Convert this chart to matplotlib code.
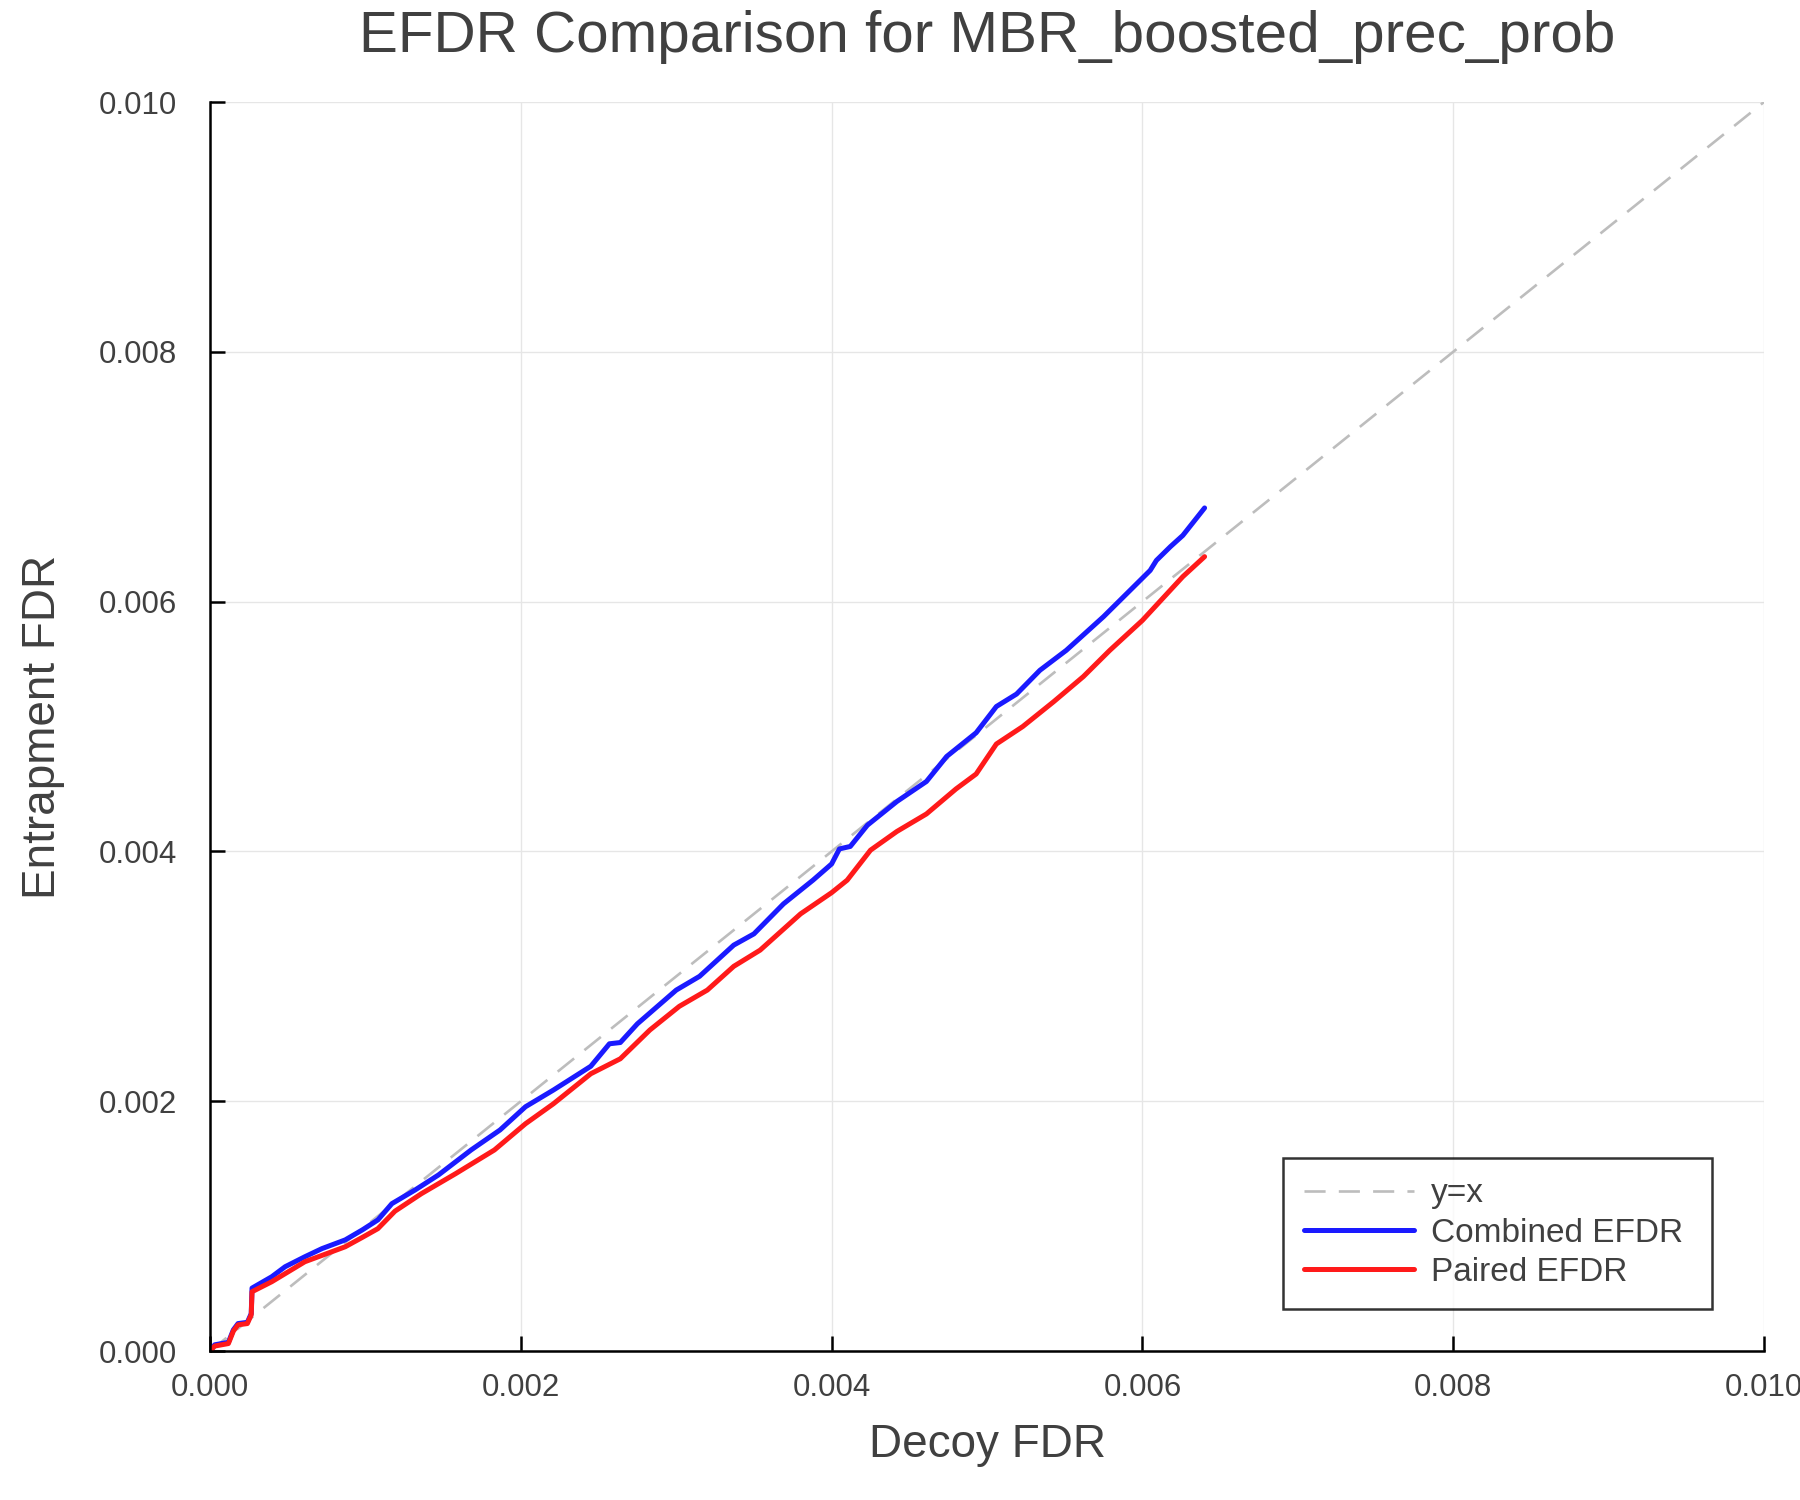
import matplotlib
matplotlib.use("Agg")
import matplotlib.pyplot as plt

title = "EFDR Comparison for MBR_boosted_prec_prob"
x_label = "Decoy FDR"
y_label = "Entrapment FDR"
ticks = [0.000, 0.002, 0.004, 0.006, 0.008, 0.010]
tick_labels = ["0.000", "0.002", "0.004", "0.006", "0.008", "0.010"]

diag_x = [0.0, 0.010]
diag_y = [0.0, 0.010]

combined_x = [0.0, 0.00003, 0.000118, 0.00015, 0.00018, 0.00024, 0.000265, 0.00027,
              0.000397, 0.000483, 0.00061, 0.00072, 0.00087, 0.00098, 0.00108, 0.00117,
              0.00132, 0.00147, 0.00168, 0.001866, 0.00203, 0.00221, 0.00245, 0.00257,
              0.00264, 0.00275, 0.0030, 0.00315, 0.00337, 0.0035, 0.00369, 0.00388,
              0.0040, 0.00405, 0.00412, 0.00423, 0.00442, 0.00461, 0.00474, 0.00483,
              0.00493, 0.00506, 0.00519, 0.00534, 0.00551, 0.00575, 0.00605, 0.00609,
              0.00618, 0.00626, 0.00633, 0.0064]
combined_y = [0.0, 0.00005, 0.00007, 0.00017, 0.00022, 0.00023, 0.0003, 0.000504,
              0.000595, 0.000675, 0.000755, 0.00082, 0.00089, 0.00097, 0.00105, 0.00118,
              0.00129, 0.00141, 0.00161, 0.00177, 0.001956, 0.00209, 0.00228, 0.00246,
              0.00247, 0.00262, 0.00289, 0.0030, 0.00325, 0.00334, 0.00358, 0.00377,
              0.0039, 0.00402, 0.00404, 0.00421, 0.0044, 0.00456, 0.00476, 0.00485,
              0.00495, 0.00516, 0.00526, 0.00545, 0.00561, 0.00588, 0.00625, 0.00633,
              0.00644, 0.00653, 0.00664, 0.00675]

paired_x = [0.0, 0.00003, 0.000118, 0.00015, 0.00018, 0.00024, 0.000265, 0.00027,
            0.000397, 0.00061, 0.00087, 0.00098, 0.00108, 0.00119, 0.00136, 0.00158,
            0.00183, 0.00203, 0.00221, 0.00245, 0.00264, 0.00283, 0.00302, 0.0032,
            0.00337, 0.00354, 0.0038, 0.0040, 0.0041, 0.00425, 0.00442, 0.00461,
            0.0048, 0.00493, 0.00506, 0.00523, 0.00543, 0.00562, 0.00579, 0.0060,
            0.00626, 0.00633, 0.0064]
paired_y = [0.0, 0.00004, 0.00006, 0.00016, 0.00021, 0.00022, 0.00029, 0.000475,
            0.000555, 0.000715, 0.000835, 0.00091, 0.00098, 0.00112, 0.00126, 0.00142,
            0.00161, 0.00182, 0.00198, 0.00222, 0.00234, 0.00257, 0.00276, 0.00289,
            0.00308, 0.00321, 0.0035, 0.00367, 0.00377, 0.00401, 0.00416, 0.0043,
            0.0045, 0.00462, 0.00486, 0.005, 0.0052, 0.0054, 0.00561, 0.00585,
            0.0062, 0.00628, 0.00636]

plt.rcParams['font.family'] = ['Liberation Sans', 'DejaVu Sans']
text_color = '#404040'

fig = plt.figure(figsize=(18, 15), dpi=100)
ax = fig.add_axes([0.1167, 0.0993, 0.8633, 0.8327])

ax.plot(diag_x, diag_y, color='#bdbdbd', linestyle=(0, (8, 5)), linewidth=1.9, label='y=x')
ax.plot(combined_x, combined_y, color='#1a1aff', linewidth=3.6, label='Combined EFDR',
        solid_joinstyle='round', solid_capstyle='round')
ax.plot(paired_x, paired_y, color='#ff1a1a', linewidth=3.6, label='Paired EFDR',
        solid_joinstyle='round', solid_capstyle='round')

ax.set_xlim(0, 0.010)
ax.set_ylim(0, 0.010)
ax.set_xticks(ticks)
ax.set_xticklabels(tick_labels)
ax.set_yticks(ticks)
ax.set_yticklabels(tick_labels)
ax.tick_params(direction='in', length=11, width=1.8, labelsize=22.5, labelcolor=text_color)
ax.tick_params(axis='y', pad=24)
ax.tick_params(axis='x', pad=16)
ax.grid(True, color='#e6e6e6', linewidth=1.0)
ax.set_axisbelow(True)
for s in ['top', 'right']:
    ax.spines[s].set_visible(False)
for s in ['left', 'bottom']:
    ax.spines[s].set_linewidth(1.8)
    ax.spines[s].set_color('black')

ax.set_title(title, fontsize=42, color=text_color, pad=36)
ax.set_xlabel(x_label, fontsize=33, color=text_color, labelpad=14)
ax.set_ylabel(y_label, fontsize=33, color=text_color, labelpad=24)

leg = ax.legend(loc='lower left', bbox_to_anchor=(0.6906, 0.034, 0.2762, 0.1), mode='expand',
                fontsize=24, frameon=True, fancybox=False, edgecolor='black', borderpad=0.62,
                handlelength=3.3, handletextpad=0.5, borderaxespad=0.0,
                labelspacing=0.25)
leg.get_frame().set_linewidth(1.8)
for t in leg.get_texts():
    t.set_color(text_color)

fig.savefig('out.png', dpi=100)
